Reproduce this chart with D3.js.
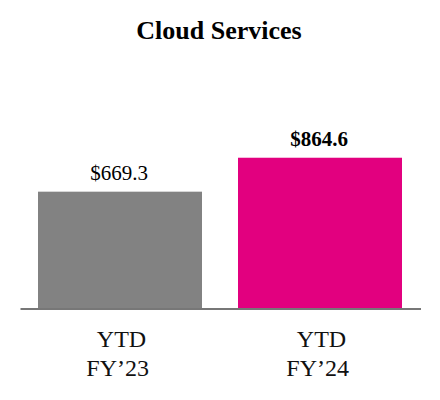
<!DOCTYPE html>
<html><head><meta charset="utf-8">
<script src="https://cdn.jsdelivr.net/npm/d3@7"></script>
<style>body{margin:0;background:#fff}</style>
</head><body>
<svg id="c" width="440" height="400"></svg>
<script>
const categories = [["YTD","FY\u201923"],["YTD","FY\u201924"]];
const values = [669.3, 864.6];
const valueLabels = ["$669.3", "$864.6"];
const colors = ["#828282", "#E2007F"];

const svg = d3.select("#c");
const font = "'Liberation Serif','Times New Roman',serif";
const x = d3.scaleBand().domain(d3.range(values.length)).range([20,420]).paddingInner(0.18).paddingOuter(0.09);
const y = d3.scaleLinear().domain([0,1000]).range([308,134.2]);

svg.append("text").attr("x",219).attr("y",38.5).attr("text-anchor","middle")
  .attr("font-family",font).attr("font-weight","bold").attr("font-size",26).text("Cloud Services");

svg.selectAll("rect.bar").data(values).join("rect").attr("class","bar")
  .attr("x",(d,i)=>x(i)).attr("width",x.bandwidth())
  .attr("y",d=>y(d)).attr("height",d=>y(0)-y(d)).attr("fill",(d,i)=>colors[i]);

svg.append("line").attr("x1",20.5).attr("x2",421).attr("y1",309).attr("y2",309)
  .attr("stroke","#777").attr("stroke-width",2);

svg.selectAll("text.val").data(values).join("text").attr("class","val")
  .attr("x",(d,i)=>x(i)+x.bandwidth()/2-1).attr("y",d=>y(d)-12)
  .attr("text-anchor","middle").attr("font-family",font).attr("font-size",21)
  .attr("font-weight",(d,i)=>i===values.length-1?"bold":"normal")
  .text((d,i)=>valueLabels[i]);

const g = svg.selectAll("text.cat").data(categories).join("text").attr("class","cat")
  .attr("text-anchor","middle").attr("font-family",font).attr("font-size",24).attr("fill","#111");
g.each(function(d,i){
  const cx = x(i)+x.bandwidth()/2;
  d3.select(this).selectAll("tspan").data(d).join("tspan")
    .attr("x",(t,j)=>cx+(j===0?1.5:-2.3)).attr("y",(t,j)=>347.3+j*28.7).text(t=>t);
});
</script>
</body></html>
